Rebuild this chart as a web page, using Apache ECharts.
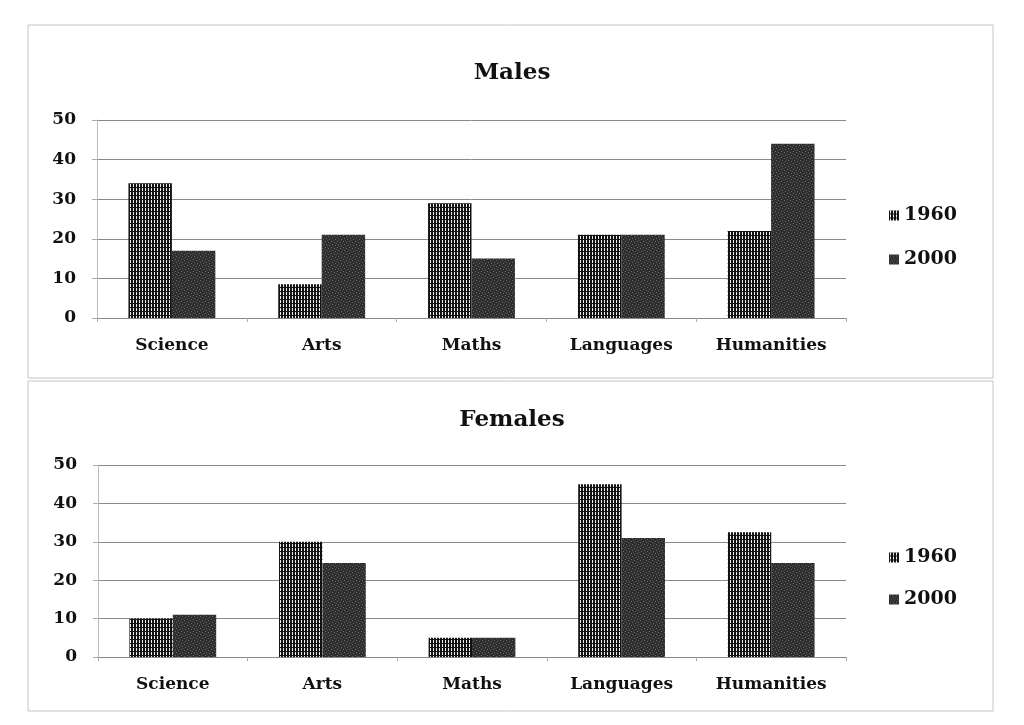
<!DOCTYPE html>
<html>
<head>
<meta charset="utf-8">
<script src="https://cdn.jsdelivr.net/npm/echarts@6/dist/echarts.min.js"></script>
<style>
html,body{margin:0;padding:0;background:#fff;}
#chart{width:1024px;height:725px;}
</style>
</head>
<body>
<div id="chart"></div>
<script>
const categories = ['Science', 'Arts', 'Maths', 'Languages', 'Humanities'];
const seriesNames = ['1960', '2000'];
const males1960 = [34, 8.5, 29, 21, 22];
const males2000 = [17, 21, 15, 21, 44];
const females1960 = [10, 30, 5, 45, 32.5];
const females2000 = [11, 24.5, 5, 31, 24.5];
const yTicks = [0, 10, 20, 30, 40, 50];

function makePattern(kind) {
  const c = document.createElement('canvas');
  if (kind === 'grid') {
    c.width = 3; c.height = 4;
    const g = c.getContext('2d');
    g.fillStyle = '#121212'; g.fillRect(0, 0, 3, 4);
    g.fillStyle = '#f0f0f0'; g.fillRect(1, 0, 1, 3);
  } else {
    c.width = 6; c.height = 6;
    const g = c.getContext('2d');
    g.fillStyle = '#2e2e2e'; g.fillRect(0, 0, 6, 6);
    g.fillStyle = '#6a6a6a';
    g.fillRect(1, 1, 1, 1); g.fillRect(4, 2, 1, 1); g.fillRect(2, 4, 1, 1); g.fillRect(5, 5, 1, 1);
    g.fillStyle = '#4a4a4a';
    g.fillRect(3, 0, 1, 1); g.fillRect(0, 3, 1, 1);
  }
  return c;
}
const pat1960 = { image: makePattern('grid'), repeat: 'repeat' };
const pat2000 = { image: makePattern('mottle'), repeat: 'repeat' };

const FONT = 'DejaVu Serif';
const labelStyle = { fontFamily: FONT, fontWeight: 'bold', fontSize: 17, color: '#111' };

function xAxisFor(idx) {
  return {
    type: 'category', gridIndex: idx, data: categories,
    axisLine: { lineStyle: { color: '#888', width: 1 } },
    axisTick: { show: true, length: 4, lineStyle: { color: '#aaa' } },
    axisLabel: Object.assign({ margin: 19 }, labelStyle)
  };
}
function yAxisFor(idx) {
  return {
    type: 'value', gridIndex: idx, min: yTicks[0], max: yTicks[yTicks.length - 1], interval: 10,
    axisLine: { show: true, lineStyle: { color: '#bbb' } },
    axisTick: { show: true, length: 5, lineStyle: { color: '#aaa' } },
    axisLabel: Object.assign({ margin: 21 }, labelStyle, { fontSize: 17 }),
    splitLine: { lineStyle: { color: '#8a8a8a', width: 1 } }
  };
}
function barSeries(name, data, idx, pattern) {
  return {
    name: name, type: 'bar', xAxisIndex: idx, yAxisIndex: idx, data: data,
    barGap: '0%', barCategoryGap: '42%',
    itemStyle: { color: pattern }
  };
}

const chart = echarts.init(document.getElementById('chart'));
chart.setOption({
  animation: false,
  backgroundColor: '#fff',
  title: [
    { text: 'Males', left: 'center', top: 57, textStyle: { fontFamily: FONT, fontWeight: 'bold', fontSize: 23, color: '#111' } },
    { text: 'Females', left: 'center', top: 404, textStyle: { fontFamily: FONT, fontWeight: 'bold', fontSize: 23, color: '#111' } }
  ],
  legend: [
    { data: seriesNames, orient: 'vertical', left: 884, top: 201, icon: 'rect', itemWidth: 10, itemHeight: 10, itemGap: 25,
      textStyle: Object.assign({}, labelStyle, { fontSize: 19 }) },
    { data: seriesNames, orient: 'vertical', left: 884, top: 543, icon: 'rect', itemWidth: 10, itemHeight: 10, itemGap: 23,
      textStyle: Object.assign({}, labelStyle, { fontSize: 19 }) }
  ],
  grid: [
    { left: 97, right: 178, top: 120, bottom: 407 },
    { left: 98, right: 178, top: 465, bottom: 68 }
  ],
  xAxis: [xAxisFor(0), xAxisFor(1)],
  yAxis: [yAxisFor(0), yAxisFor(1)],
  series: [
    barSeries(seriesNames[0], males1960, 0, pat1960),
    barSeries(seriesNames[1], males2000, 0, pat2000),
    barSeries(seriesNames[0], females1960, 1, pat1960),
    barSeries(seriesNames[1], females2000, 1, pat2000)
  ],
  graphic: [
    { type: 'rect', shape: { x: 28, y: 25, width: 965, height: 353 }, style: { fill: 'none', stroke: '#c4c4c4', lineWidth: 1 }, silent: true },
    { type: 'rect', shape: { x: 28, y: 381, width: 965, height: 330 }, style: { fill: 'none', stroke: '#c4c4c4', lineWidth: 1 }, silent: true }
  ]
});
</script>
</body>
</html>
